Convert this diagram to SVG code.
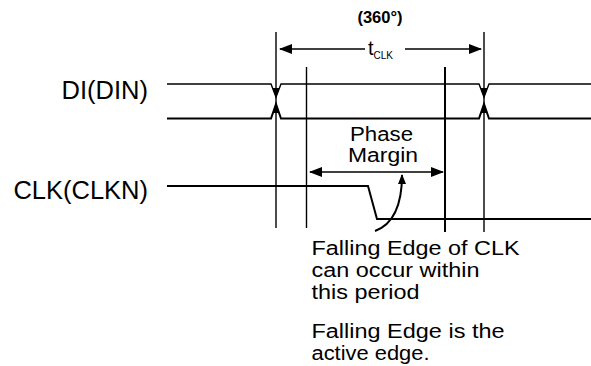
<svg xmlns="http://www.w3.org/2000/svg" width="591" height="366" viewBox="0 0 591 366">
<style>
.ln{stroke:#000;fill:none;stroke-width:1.4}
.sig{stroke:#000;fill:none;stroke-width:2}
.lbl{font-family:"Liberation Sans",Arial,sans-serif;fill:#000}
.nt{font-family:"Liberation Sans",Arial,sans-serif;fill:#000;font-size:19.5px}
.hd{fill:#000;stroke:none}
</style>
<defs>
<marker id="ah" markerUnits="userSpaceOnUse" markerWidth="13" markerHeight="10" refX="12" refY="5" orient="auto-start-reverse">
<path d="M0,0 L13,5 L0,10 z" fill="#000"/>
</marker>
<marker id="ah2" markerUnits="userSpaceOnUse" markerWidth="10" markerHeight="8" refX="9" refY="4" orient="auto">
<path d="M0,0 L10,4 L0,8 z" fill="#000"/>
</marker>
</defs>
<rect width="591" height="366" fill="#fff"/>
<g id="labels">
<text class="lbl" x="148" y="99" font-size="25.5" text-anchor="end">DI(DIN)</text>
<text class="lbl" x="148" y="199" font-size="25.5" text-anchor="end">CLK(CLKN)</text>
<text class="lbl" x="380" y="23" font-size="16.5" font-weight="bold" text-anchor="middle">(360°)</text>
</g>
<g id="DI">
<path class="ln" d="M167,84 H271 L276,97 L281,84 H479 L484,97 L489,84 H591"/>
<path class="sig" d="M167,118.5 H271 L276,104 L281,118.5 H479 L484,104 L489,118.5 H591"/>
<path class="hd" d="M272.5,88 L279.5,88 L276,98 z M480.5,88 L487.5,88 L484,98 z M272.5,113 L279.5,113 L276,103 z M480.5,113 L487.5,113 L484,103 z"/>
</g>
<g id="CLK">
<path class="sig" d="M167,186 H368 L377,219 H591"/>
</g>
<g id="connectors">
<line class="ln" x1="276" y1="32" x2="276" y2="228"/>
<line class="ln" x1="484" y1="32" x2="484" y2="232"/>
<line class="ln" x1="306.5" y1="67" x2="306.5" y2="228"/>
<line class="sig" x1="445" y1="67" x2="445" y2="232"/>
<line class="ln" x1="280" y1="49" x2="365" y2="49" marker-start="url(#ah)"/>
<line class="ln" x1="405" y1="49" x2="481" y2="49" marker-end="url(#ah)"/>
<line class="ln" x1="310" y1="172" x2="443" y2="172" marker-start="url(#ah)" marker-end="url(#ah)"/>
<path class="sig" d="M375,231 C394,224 402,205 402,175" marker-end="url(#ah2)"/>
</g>
<g id="tclk">
<text class="lbl" x="368" y="55" font-size="20">t<tspan font-size="10" dy="3.5">CLK</tspan></text>
</g>
<g id="phase-margin">
<text class="nt" x="350" y="140.5" textLength="63" lengthAdjust="spacingAndGlyphs">Phase</text>
<text class="nt" x="348" y="162" textLength="70" lengthAdjust="spacingAndGlyphs">Margin</text>
</g>
<g id="notes">
<text class="nt" x="311.5" y="255" textLength="208" lengthAdjust="spacingAndGlyphs">Falling Edge of CLK</text>
<text class="nt" x="311.5" y="277" textLength="168" lengthAdjust="spacingAndGlyphs">can occur within</text>
<text class="nt" x="311.5" y="299" textLength="108" lengthAdjust="spacingAndGlyphs">this period</text>
<text class="nt" x="311.5" y="338" textLength="193" lengthAdjust="spacingAndGlyphs">Falling Edge is the</text>
<text class="nt" x="311.5" y="360" textLength="118" lengthAdjust="spacingAndGlyphs">active edge.</text>
</g>
</svg>
